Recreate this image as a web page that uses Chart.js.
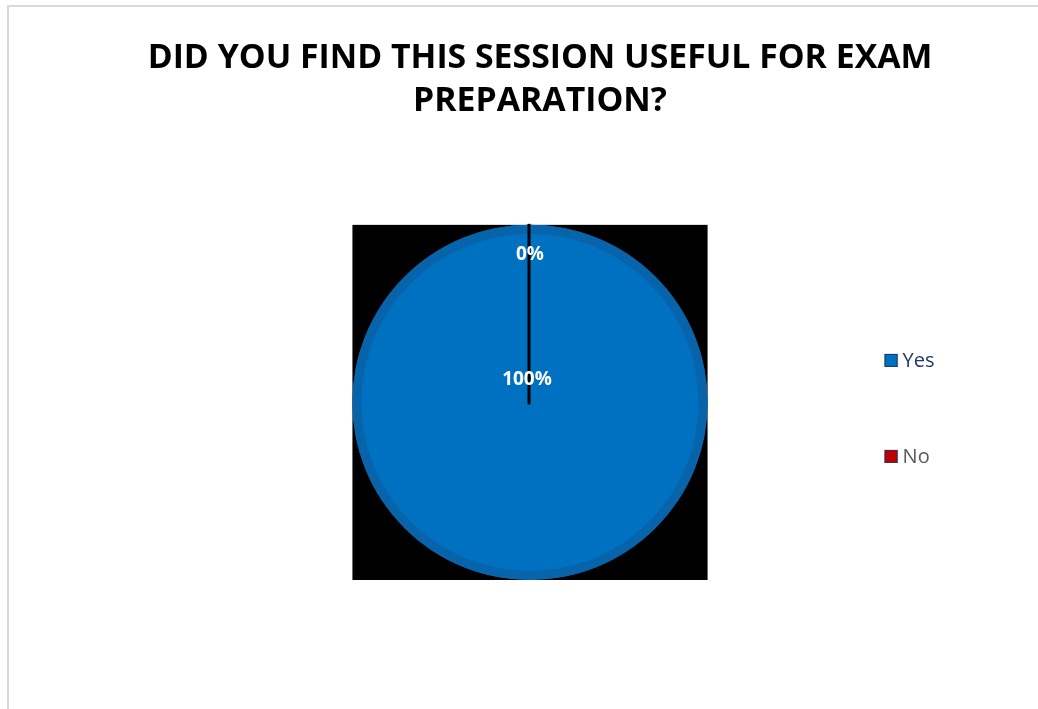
<!DOCTYPE html>
<html>
<head>
<meta charset="utf-8">
<script src="https://cdn.jsdelivr.net/npm/chart.js@4"></script>
<style>
  html, body { margin: 0; padding: 0; background: #fff; }
  #wrap { position: relative; width: 1038px; height: 709px; }
  #frame { position: absolute; left: 7px; top: 5px; right: -4px; bottom: -4px;
           border-left: 2px solid #d9d9d9; border-top: 2px solid #d9d9d9; pointer-events: none; }
  canvas { position: absolute; left: 0; top: 0; }
</style>
</head>
<body>
<div id="wrap">
  <canvas id="c" width="1038" height="709"></canvas>
  <div id="frame"></div>
</div>
<script>
const titleLines = ['DID YOU FIND THIS SESSION USEFUL FOR EXAM', 'PREPARATION?'];
const categories = ['Yes', 'No'];
const values = [100, 0];
const sliceColors = ['#0070c0', '#c00000'];
const legendTextColors = ['#1f3864', '#595959'];
const ringColor = '#0764aa';

// small spacer box on the right so the pie sits slightly left of the title centre
const spacerPlugin = {
  id: 'spacer',
  beforeInit(chart) {
    Chart.layouts.addBox(chart, {
      position: 'right', weight: 0, fullSize: false,
      options: { stackWeight: 1 },
      top: 0, left: 0, right: 0, bottom: 0, width: 0, height: 0,
      isHorizontal() { return false; },
      update(maxW, maxH) { this.width = 20; this.height = maxH; return { width: 20, height: maxH }; },
      getPadding() { return { left: 0, top: 0, right: 0, bottom: 0 }; },
      draw() {}
    });
  }
};

const piePlugin = {
  id: 'pieDecor',
  beforeDatasetsDraw(chart) {
    const arc = chart.getDatasetMeta(0).data[0];
    if (!arc) return;
    const { x, y, outerRadius } = arc.getProps(['x', 'y', 'outerRadius'], true);
    const ctx = chart.ctx;
    ctx.save();
    ctx.fillStyle = '#000';
    ctx.fillRect(x - outerRadius, y - outerRadius, outerRadius * 2, outerRadius * 2);
    ctx.restore();
  },
  afterDatasetsDraw(chart) {
    const meta = chart.getDatasetMeta(0);
    const arc = meta.data[0];
    const { x, y, outerRadius, startAngle } = arc.getProps(['x', 'y', 'outerRadius', 'startAngle'], true);
    const ctx = chart.ctx;
    ctx.save();
    // darker outer ring
    ctx.strokeStyle = ringColor;
    ctx.lineWidth = 9;
    ctx.beginPath();
    ctx.arc(x, y, outerRadius - 4.5, 0, Math.PI * 2);
    ctx.stroke();
    // slice separator
    ctx.strokeStyle = '#000';
    ctx.lineWidth = 3;
    ctx.beginPath();
    ctx.moveTo(x - 1, y + 2);
    ctx.lineTo(x - 1 + Math.cos(startAngle) * (outerRadius + 1), y + Math.sin(startAngle) * (outerRadius + 1));
    ctx.stroke();
    // data labels
    const total = values.reduce((a, b) => a + b, 0);
    ctx.fillStyle = '#fff';
    ctx.font = 'bold 19px "Open Sans", sans-serif';
    ctx.textAlign = 'center';
    ctx.textBaseline = 'middle';
    meta.data.forEach((el, i) => {
      const p = el.getProps(['startAngle', 'endAngle'], true);
      const pct = Math.round(values[i] / total * 100) + '%';
      let lx, ly;
      if (values[i] / total >= 0.999) {
        lx = x - 3; ly = y - outerRadius * 0.13;
      } else {
        const mid = (p.startAngle + p.endAngle) / 2;
        lx = x + Math.cos(mid) * outerRadius * 0.83;
        ly = y + Math.sin(mid) * outerRadius * 0.83;
      }
      ctx.fillText(pct, lx, ly);
    });
    // legend
    const lx0 = x + outerRadius + 177;
    const ly0 = y - 42;
    const gap = 96;
    ctx.font = '20px "Open Sans", sans-serif';
    ctx.textAlign = 'left';
    categories.forEach((c, i) => {
      const cy = ly0 + i * gap;
      ctx.fillStyle = sliceColors[i];
      ctx.fillRect(lx0, cy - 6.5, 13, 13);
      ctx.strokeStyle = '#1f3864';
      ctx.lineWidth = 1;
      ctx.strokeRect(lx0 + 0.5, cy - 6, 12, 12);
      ctx.fillStyle = legendTextColors[i];
      ctx.fillText(c, lx0 + 18, cy + 1);
    });
    ctx.restore();
  }
};

new Chart(document.getElementById('c'), {
  type: 'pie',
  data: {
    labels: categories,
    datasets: [{
      data: values,
      backgroundColor: sliceColors,
      borderWidth: 0
    }]
  },
  options: {
    responsive: false,
    animation: false,
    events: [],
    layout: { padding: { left: 142, right: 100, top: 0, bottom: 129 } },
    plugins: {
      tooltip: { enabled: false },
      legend: { display: false },
      title: {
        display: true,
        text: titleLines,
        color: '#000',
        font: { family: '"Open Sans", sans-serif', size: 33.8, weight: 'bold', lineHeight: 1.27 },
        padding: { top: 37, bottom: 102 }
      }
    }
  },
  plugins: [spacerPlugin, piePlugin]
});
</script>
</body>
</html>
